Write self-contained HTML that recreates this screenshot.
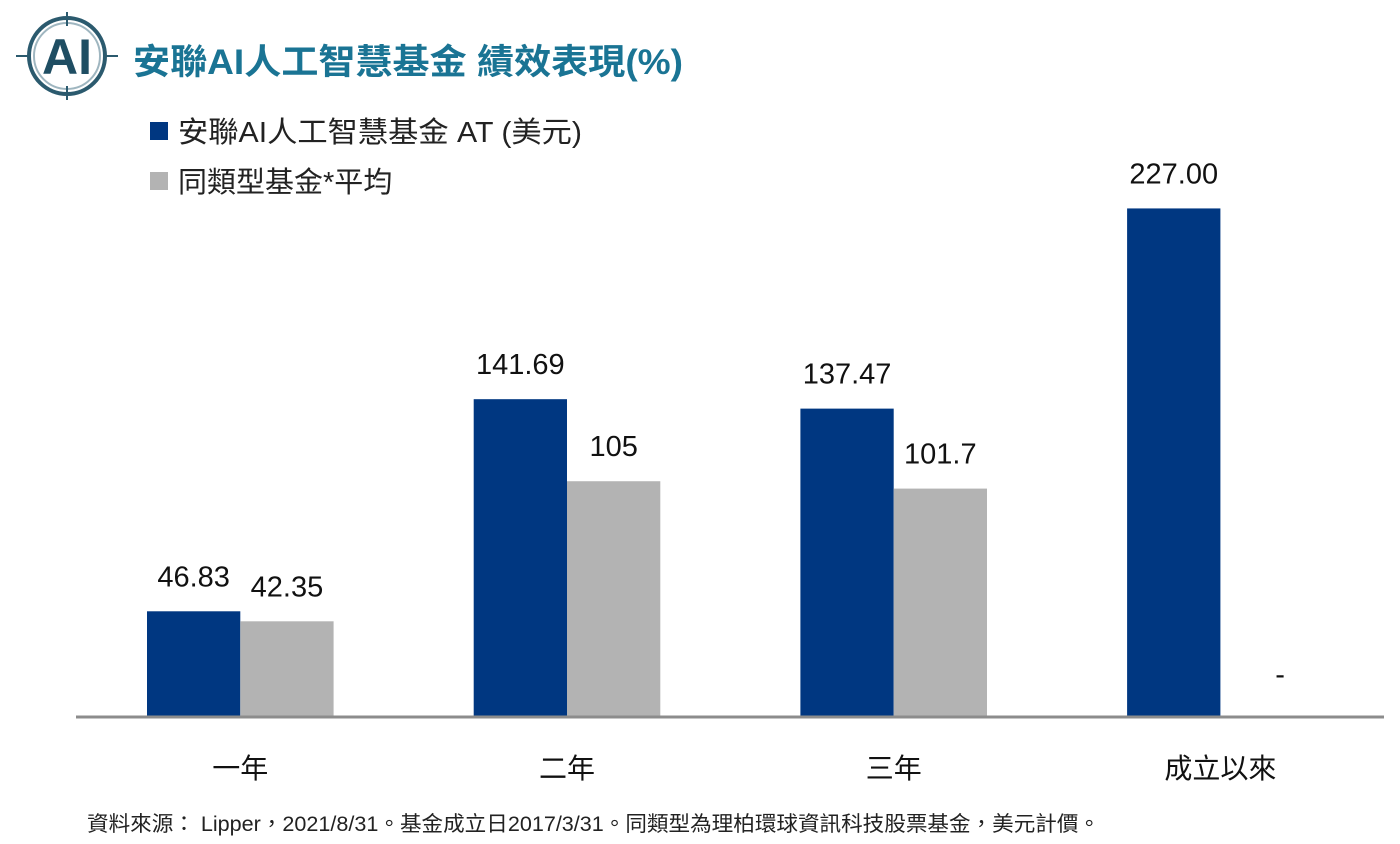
<!DOCTYPE html>
<html><head><meta charset="utf-8">
<style>
body{margin:0;width:1400px;height:839px;background:#fff;overflow:hidden;font-family:"Liberation Sans","Noto Sans CJK TC",sans-serif;}
svg text{font-family:"Liberation Sans","Noto Sans CJK TC",sans-serif;}
</style></head><body>
<svg id="chart" width="1400" height="839">
  <g>
    <circle cx="67" cy="56" r="38" fill="none" stroke="#2b5a6e" stroke-width="4"/>
    <circle cx="67" cy="56" r="33" fill="none" stroke="#9fb6c0" stroke-width="2"/>
    <line x1="67" y1="12" x2="67" y2="26" stroke="#2b5a6e" stroke-width="2"/>
    <line x1="67" y1="86" x2="67" y2="100" stroke="#2b5a6e" stroke-width="2"/>
    <line x1="16" y1="56" x2="30" y2="56" stroke="#2b5a6e" stroke-width="2"/>
    <line x1="104" y1="56" x2="118" y2="56" stroke="#2b5a6e" stroke-width="2"/>
    <text x="67" y="74" text-anchor="middle" font-size="50" font-weight="bold" fill="#1f4e63">AI</text>
  </g>
  <text x="133" y="74" font-size="35" font-weight="bold" fill="#1a7494" textLength="550" lengthAdjust="spacingAndGlyphs">安聯AI人工智慧基金  績效表現(%)</text>
  <rect x="150" y="122" width="18" height="18" fill="#003781"/>
  <text x="178" y="142" font-size="29" fill="#222" textLength="404" lengthAdjust="spacingAndGlyphs">安聯AI人工智慧基金 AT (美元)</text>
  <rect x="150" y="172" width="18" height="18" fill="#b3b3b3"/>
  <text x="178" y="192" font-size="29" fill="#222">同類型基金*平均</text>
  <g id="bars"></g>
  <line x1="76" y1="717" x2="1384" y2="717" stroke="#8c8c8c" stroke-width="3"/>
  <text x="87" y="831" font-size="21" fill="#222" textLength="1013" lengthAdjust="spacingAndGlyphs">資料來源： Lipper，2021/8/31。基金成立日2017/3/31。同類型為理柏環球資訊科技股票基金，美元計價。</text>
</svg>
<script>
const categories=["一年","二年","三年","成立以來"];
const fundValues=[46.83,141.69,137.47,227.00];
const fundLabels=["46.83","141.69","137.47","227.00"];
const peerValues=[42.35,105,101.7,null];
const peerLabels=["42.35","105","101.7","-"];
const baseY=716, scale=2.236, x0=147, groupStep=326.7, barW=93.3;
const yPx=v=>baseY-v*scale;
const ns="http://www.w3.org/2000/svg";
const g=document.getElementById('bars');
function mk(tag,attrs){const e=document.createElementNS(ns,tag);for(const k in attrs)e.setAttribute(k,attrs[k]);g.appendChild(e);return e;}
categories.forEach((c,i)=>{
  const gx=x0+i*groupStep;
  const fv=fundValues[i];
  const r=mk('rect',{x:gx,y:yPx(fv),width:barW,height:fv*scale,fill:'#003781'});
  
  
  const t=mk('text',{x:gx+barW/2,y:yPx(fv)-25,'text-anchor':'middle','font-size':'29',fill:'#111'});
  t.textContent=fundLabels[i];
  
  
  const pv=peerValues[i];
  const px=gx+barW;
  if(pv!=null){
    const r2=mk('rect',{x:px,y:yPx(pv),width:barW,height:pv*scale,fill:'#b3b3b3'});
    
    
  }
  const t2=mk('text',{x:px+barW/2+(pv==null?13:0),y:(pv!=null?yPx(pv)-25:684),'text-anchor':'middle','font-size':'29',fill:'#111'});
  t2.textContent=peerLabels[i];
  
  
  const cl=mk('text',{x:gx+barW,y:778,'text-anchor':'middle','font-size':'28',fill:'#111'});
  cl.textContent=c;
  
  
});
</script>
</body></html>
